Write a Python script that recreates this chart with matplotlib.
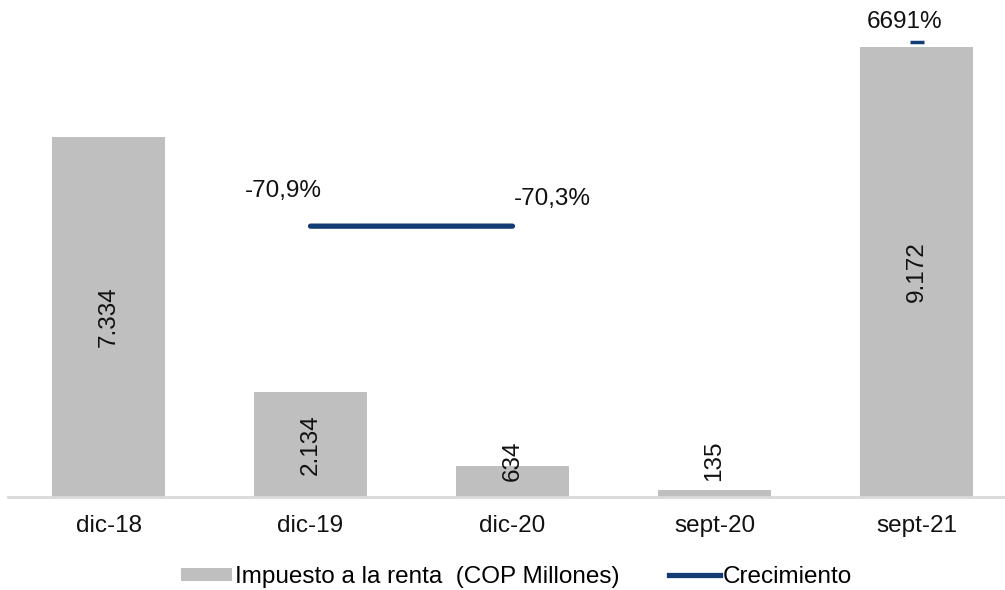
import matplotlib
matplotlib.use("Agg")
import matplotlib.pyplot as plt
import numpy as np
from matplotlib.patches import Patch
from matplotlib.lines import Line2D

categories = ["dic-18", "dic-19", "dic-20", "sept-20", "sept-21"]
impuesto = [7334, 2134, 634, 135, 9172]
crecimiento = [np.nan, -70.9, -70.3, np.nan, 6691]
crec_labels = ["", "-70,9%", "-70,3%", "", "6691%"]

plt.rcParams['font.family'] = ['Liberation Sans', 'DejaVu Sans']
FS = 17.5
BAR = "#BFBFBF"
LINE = "#123C73"

fig = plt.figure(figsize=(10.05, 5.9), dpi=100)
ax = fig.add_axes([7.5/1005, 93/590, 1010/1005, 491/590])
x = np.arange(len(categories))
ax.bar(x, impuesto, width=0.555, color=BAR, zorder=2)
ax.set_xlim(-0.5, 4.5)
ax.set_ylim(0, 10000)
ax.set_yticks([])
for s in ["top", "right", "left"]:
    ax.spines[s].set_visible(False)
ax.spines["bottom"].set_color("#D9D9D9")
ax.spines["bottom"].set_linewidth(2)
ax.set_xticks(x)
ax.set_xticklabels(categories, fontsize=FS, color="#111111")
ax.tick_params(axis="x", length=0, pad=13)

for xi, v in zip(x, impuesto):
    ypos = max(v / 2, 735)
    ax.text(xi, ypos, f"{v:,}".replace(",", "."), rotation=90, ha="center", va="center",
            fontsize=FS, color="#111111", zorder=3)

ax2 = ax.twinx()
ax2.set_ylim(-10000, 8000)
ax2.axis("off")
ax2.plot(x, crecimiento, color=LINE, lw=3.8, solid_capstyle="round", zorder=4)
ax2.plot([x[4]], [crecimiento[4]], marker="_", markersize=10, mew=2.5, color=LINE, ls="none")

offsets = {1: (-27, 35), 2: (40, 27), 4: (-12, 20)}
for i, lab in enumerate(crec_labels):
    if lab:
        dx, dy = offsets[i]
        ax2.annotate(lab, (x[i], crecimiento[i]), xytext=(dx, dy), textcoords="offset pixels",
                     ha="center", va="center", fontsize=FS, color="#111111")

handles = [Patch(facecolor=BAR, edgecolor="none"),
           Line2D([0], [0], color=LINE, lw=3.8)]
fig.legend(handles, ["Impuesto a la renta  (COP Millones)", "Crecimiento"],
           loc="center", bbox_to_anchor=(0.514, 0.022), ncol=2, frameon=False,
           fontsize=FS, handlelength=2.1, handletextpad=0.15, columnspacing=2.0,
           handleheight=0.45)

fig.savefig("out.png", dpi=100)
